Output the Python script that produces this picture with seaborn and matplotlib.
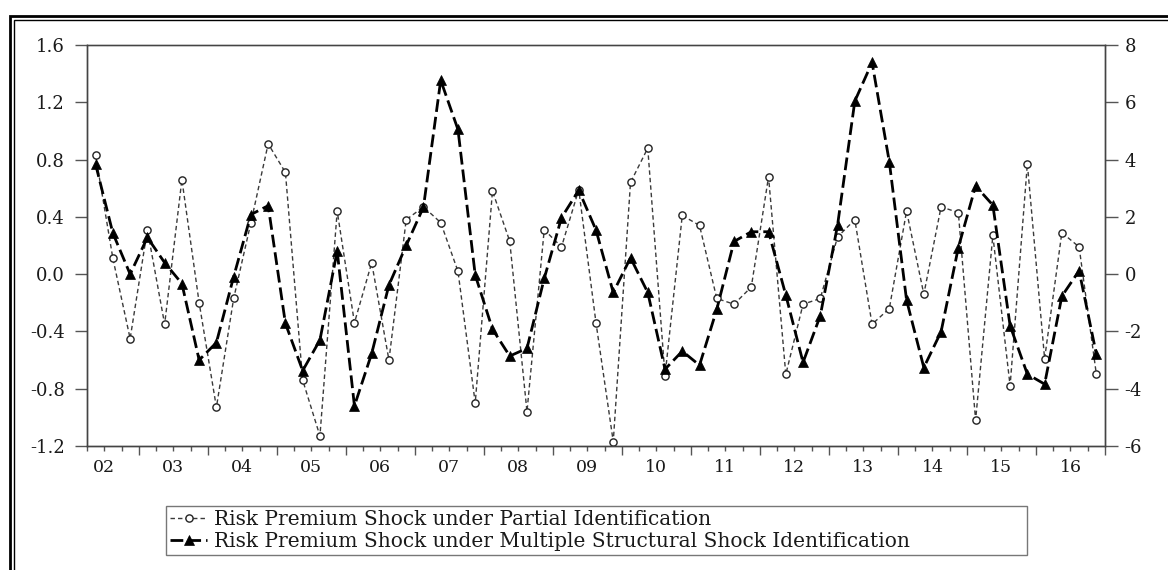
import numpy as np
import pandas as pd
import seaborn as sns
import matplotlib
matplotlib.use("Agg")
import matplotlib.pyplot as plt
from matplotlib.patches import Rectangle
from matplotlib.ticker import FixedLocator, FuncFormatter, MultipleLocator, NullFormatter

# ---------------- data ----------------
quarters = pd.period_range("2002Q2", "2016Q4", freq="Q")

partial = [0.83, 0.11, -0.45, 0.31, -0.35, 0.66, -0.20, -0.93, -0.17, 0.36,
           0.91, 0.71, -0.74, -1.13, 0.44, -0.34, 0.08, -0.60, 0.38, 0.47,
           0.36, 0.02, -0.90, 0.58, 0.23, -0.96, 0.31, 0.19, 0.59, -0.34,
           -1.17, 0.64, 0.88, -0.71, 0.41, 0.34, -0.17, -0.21, -0.09, 0.68,
           -0.70, -0.21, -0.17, 0.26, 0.38, -0.35, -0.24, 0.44, -0.14, 0.47,
           0.43, -1.02, 0.27, -0.78, 0.77, -0.59, 0.29, 0.19, -0.70]

multiple = [3.83, 1.43, 0.00, 1.28, 0.40, -0.33, -3.00, -2.39, -0.09, 2.08,
            2.39, -1.72, -3.37, -2.30, 0.81, -4.60, -2.77, -0.38, 1.00, 2.34,
            6.77, 5.05, -0.03, -1.92, -2.86, -2.59, -0.15, 1.97, 2.93, 1.54,
            -0.64, 0.57, -0.64, -3.32, -2.69, -3.18, -1.23, 1.14, 1.48, 1.48,
            -0.73, -3.08, -1.45, 1.71, 6.04, 7.39, 3.92, -0.91, -3.26, -2.01,
            0.93, 3.08, 2.41, -1.80, -3.49, -3.84, -0.77, 0.12, -2.80]

left_ticks = [-1.2, -0.8, -0.4, 0.0, 0.4, 0.8, 1.2, 1.6]
right_ticks = [-6, -4, -2, 0, 2, 4, 6, 8]
years = list(range(2002, 2017))
year_labels = ["02", "03", "04", "05", "06", "07", "08", "09", "10",
               "11", "12", "13", "14", "15", "16"]

label_partial = "Risk Premium Shock under Partial Identification"
label_multiple = "Risk Premium Shock under Multiple Structural Shock Identification"

# ---------------- style ----------------
sns.set_theme(style="white")
plt.rcParams["font.family"] = ["DejaVu Serif"]
plt.rcParams["axes.linewidth"] = 1.0

df = pd.DataFrame({
    "t": quarters.year + (quarters.quarter - 1) / 4 + 0.125,
    "partial": partial,
    "multiple": multiple,
})

W, H = 1168, 570
fig = plt.figure(figsize=(W / 100, H / 100), dpi=100)
ax = fig.add_axes([87 / W, 1 - 446 / H, (1105 - 87) / W, (446 - 45) / H])
ax2 = ax.twinx()

sns.lineplot(data=df, x="t", y="partial", ax=ax, color="#3a3a3a",
             linewidth=1.0, linestyle=(0, (3.2, 2.2)), marker="o",
             markersize=5.2, mfc="white", mec="#222222", mew=1.0,
             label=label_partial, legend=False)
sns.lineplot(data=df, x="t", y="multiple", ax=ax2, color="black",
             linewidth=2.0, linestyle=(0, (4.6, 1.8)), marker="^",
             markersize=6.5, mfc="black", mec="black", mew=0.5,
             label=label_multiple, legend=False)

# y axes
ax.set_ylim(left_ticks[0], left_ticks[-1])
ax.set_yticks(left_ticks)
ax.set_yticklabels([f"{v:.1f}" for v in left_ticks])
ax2.set_ylim(right_ticks[0], right_ticks[-1])
ax2.set_yticks(right_ticks)
ax2.set_yticklabels([f"{v:d}" for v in right_ticks])
ax.set_ylabel("")
ax2.set_ylabel("")
ax.set_xlabel("")

# x axis: quarters, year boundaries longer, year labels centred
ax.set_xlim(years[0] + 0.25, years[-1] + 1)
ax.xaxis.set_major_locator(FixedLocator([y + 1 for y in years]))
ax.xaxis.set_major_formatter(NullFormatter())
ax.xaxis.set_minor_locator(MultipleLocator(0.25))
lab_map = {y + 0.5: l for y, l in zip(years, year_labels)}


def minor_fmt(v, pos):
    for k, l in lab_map.items():
        if abs(v - k) < 1e-6:
            return l
    return ""


ax.xaxis.set_minor_formatter(FuncFormatter(minor_fmt))

tick_col = "#555555"
lab_col = "#1a1a1a"
ax.tick_params(axis="y", which="major", direction="out", length=9, width=1,
               color=tick_col, pad=7, labelsize=13, labelcolor=lab_col,
               left=True, right=False)
ax2.tick_params(axis="y", which="major", direction="out", length=9, width=1,
                color=tick_col, pad=5, labelsize=13, labelcolor=lab_col,
                right=True, left=False)
ax.tick_params(axis="x", which="major", direction="out", length=6.5, width=1,
               color=tick_col, bottom=True)
ax.tick_params(axis="x", which="minor", direction="out", length=3.6, width=1,
               color=tick_col, pad=6, labelsize=12.5, labelcolor=lab_col,
               bottom=True)

for a in (ax, ax2):
    for s in a.spines.values():
        s.set_color("#444444")
        s.set_linewidth(1.0)
ax.spines["top"].set_color("#777777")

ax.grid(False)
ax2.grid(False)

# legend
h1 = ax.get_lines()[0]
h2 = ax2.get_lines()[0]
leg = fig.legend([h1, h2], [label_partial, label_multiple],
                 loc="center left",
                 bbox_to_anchor=(166 / W, 1 - 556 / H, (1027 - 166) / W, (556 - 505) / H),
                 mode="expand", ncol=1, frameon=True, fancybox=False,
                 edgecolor="#555555", fontsize=14.5, handlelength=1.8,
                 handletextpad=0.35, borderpad=0.22, labelspacing=0.12,
                 borderaxespad=0)
leg.get_frame().set_linewidth(1.0)
for t in leg.get_texts():
    t.set_color(lab_col)

# figure double border (cut at right/bottom as in the reference)
fig.patches.append(Rectangle((9.5 / W, -0.2), 1.3, 1 - 16 / H + 0.2,
                             transform=fig.transFigure, fill=False,
                             edgecolor="black", linewidth=2.0, clip_on=False))
fig.patches.append(Rectangle((13.5 / W, -0.2), 1.3, 1 - 20 / H + 0.2,
                             transform=fig.transFigure, fill=False,
                             edgecolor="black", linewidth=1.0, clip_on=False))

fig.savefig("out.png", dpi=100, facecolor="white")
